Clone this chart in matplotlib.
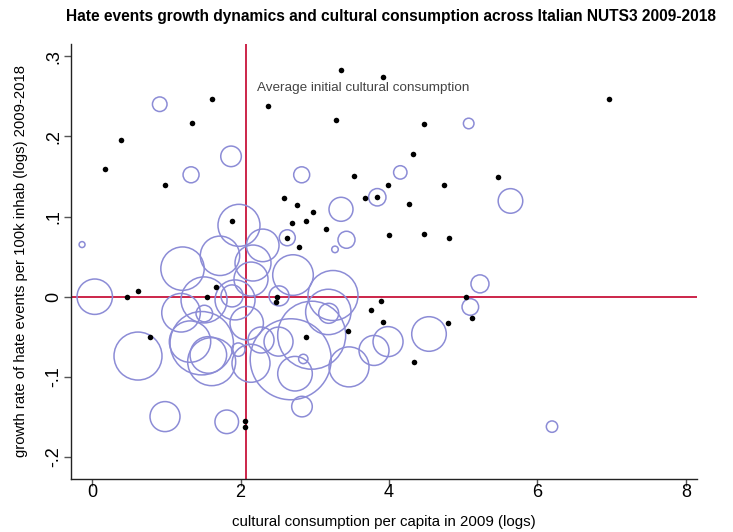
import matplotlib
matplotlib.use("Agg")
import matplotlib.pyplot as plt

plt.rcParams['font.family'] = ['Liberation Sans', 'DejaVu Sans']

# Provinces drawn as weighted hollow circles: x = log cultural consumption 2009,
# y = growth of hate events, pop = population weight (thousands)
circle_x = [-0.137, 0.034, 0.617, 0.981, 1.813, 0.910, 1.871, 1.332, 2.823, 3.353,
            3.842, 3.427, 3.272, 2.629, 1.978, 2.298, 1.722, 1.217, 2.167, 2.140,
            2.706, 2.518, 1.507, 1.884, 1.925, 1.197, 1.511, 1.476, 1.565, 1.610,
            1.969, 2.140, 2.082, 2.511, 2.275, 2.845, 2.733, 2.827, 2.675, 2.958,
            3.245, 3.182, 3.187, 3.461, 3.798, 3.987, 4.539, 5.226, 5.096, 6.197,
            5.637, 4.152, 5.074, 1.318]
circle_y = [0.065, 0.000, -0.074, -0.1495, -0.156, 0.240, 0.175, 0.152, 0.152, 0.109,
            0.124, 0.071, 0.059, 0.0735, 0.089, 0.064, 0.051, 0.035, 0.042, 0.022,
            0.027, 0.001, -0.004, 0.001, -0.004, -0.020, -0.021, -0.058, -0.0726, -0.081,
            -0.066, -0.083, -0.033, -0.056, -0.054, -0.0776, -0.096, -0.137, -0.078, -0.048,
            0.0015, -0.019, -0.0207, -0.0875, -0.067, -0.056, -0.0465, 0.016, -0.0128, -0.162,
            0.1194, 0.155, 0.216, -0.056]
circle_pop = [22, 783, 1440, 563, 348, 133, 265, 160, 160, 360,
              189, 181, 27, 160, 1103, 664, 970, 1177, 810, 723,
              1030, 250, 1323, 303, 1000, 931, 172, 2512, 837, 1440,
              112, 903, 697, 526, 423, 55, 748, 265, 4101, 2890,
              1563, 1288, 250, 1000, 563, 563, 748, 203, 172, 81,
              378, 112, 70, 1071]

# Provinces drawn as plain black dots
dot_x = [0.177, 0.392, 0.985, 1.349, 1.619, 2.369, 3.349, 3.915, 3.290, 4.468,
         4.323, 3.532, 5.469, 6.961, 3.993, 4.741, 3.681, 3.834, 2.589, 2.760,
         4.276, 2.982, 2.884, 2.695, 1.880, 3.148, 4.003, 4.468, 4.813, 2.629,
         2.787, 0.611, 0.469, 1.551, 1.668, 2.490, 2.473, 3.886, 3.760, 3.923,
         3.443, 2.881, 0.783, 5.042, 5.122, 4.791, 4.333, 2.059, 2.059]
dot_y = [0.159, 0.195, 0.139, 0.216, 0.247, 0.238, 0.283, 0.274, 0.220, 0.215,
         0.178, 0.151, 0.149, 0.247, 0.139, 0.139, 0.123, 0.124, 0.123, 0.114,
         0.115, 0.105, 0.094, 0.0915, 0.094, 0.084, 0.077, 0.078, 0.0735, 0.0735,
         0.0615, 0.0075, 0.000, 0.000, 0.0117, 0.000, -0.0066, -0.0057, -0.0166, -0.0315,
         -0.0433, -0.0504, -0.0502, 0.000, -0.0269, -0.0331, -0.081, -0.155, -0.162]

avg_initial = 2.07
x_ticks = [0, 2, 4, 6, 8]
y_ticks = [-0.2, -0.1, 0.0, 0.1, 0.2, 0.3]
y_tick_labels = ['-.2', '-.1', '0', '.1', '.2', '.3']

fig = plt.figure(figsize=(7.33, 5.32), dpi=100)
ax = fig.add_axes([71 / 733, 1 - 478.6 / 532, (697 - 71) / 733, (478.6 - 44) / 532])
ax.set_xlim(-0.286, 8.151)
ax.set_ylim(-0.2268, 0.3151)

red = '#c8143c'
ax.axvline(avg_initial, color=red, lw=1.3, zorder=1.5)
ax.axhline(0, color=red, lw=1.3, zorder=1.5)

ax.scatter(circle_x, circle_y, s=[p * 0.829 for p in circle_pop], facecolors='none',
           edgecolors='#8c8cd6', linewidths=1.1, zorder=2)
ax.scatter(dot_x, dot_y, s=16, color='black', linewidths=0, zorder=3)

ax.text(2.22, 0.26, 'Average initial cultural consumption', color='#444444',
        fontsize=9.7, va='center', ha='left')

for side in ['top', 'right']:
    ax.spines[side].set_visible(False)
for side in ['left', 'bottom']:
    ax.spines[side].set_color('#222222')
    ax.spines[side].set_linewidth(1.0)

ax.set_xticks(x_ticks)
ax.set_xticklabels([str(t) for t in x_ticks])
ax.set_yticks(y_ticks)
ax.set_yticklabels(y_tick_labels, rotation=90, va='center')
ax.tick_params(axis='both', direction='out', length=5, width=1.0, color='#555555',
               labelsize=13)
ax.tick_params(axis='x', pad=-1)
ax.tick_params(axis='y', pad=1)

ax.set_xlabel('cultural consumption per capita in 2009 (logs)', fontsize=10.8, labelpad=10)
ax.set_ylabel('growth rate of hate events per 100k inhab (logs) 2009-2018', fontsize=10.7,
              labelpad=13)

fig.text(390.5 / 733, 1 - 17 / 532,
         'Hate events growth dynamics and cultural consumption across Italian NUTS3 2009-2018',
         ha='center', va='center', fontsize=11.2, fontweight='bold')

fig.savefig('out.png', dpi=100)
